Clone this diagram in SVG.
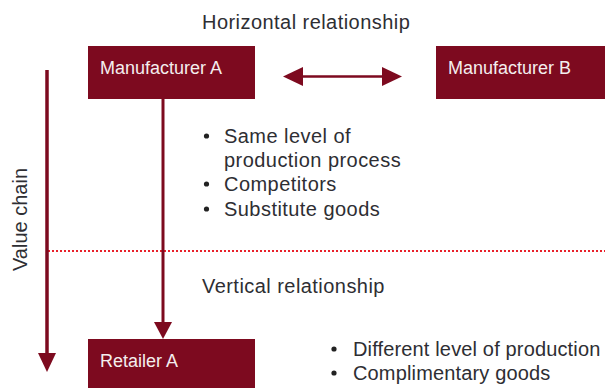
<svg xmlns="http://www.w3.org/2000/svg" width="605" height="388" viewBox="0 0 605 388">
  <style>
    .box { fill: #7d0a1f; }
    .boxlabel { font-family: "Liberation Sans", Arial, sans-serif; font-size: 18px; fill: #f4eeee; }
    .label { font-family: "Liberation Sans", Arial, sans-serif; font-size: 20px; fill: #2e2e33; letter-spacing: 0.45px; }
    .tight { letter-spacing: 0.15px; }
    .line { stroke: #7d0a1f; fill: none; }
    .head { fill: #7d0a1f; }
    .bullet { fill: #222222; }
  </style>

  <!-- Dotted divider between horizontal and vertical relationships -->
  <line x1="48" y1="251" x2="605" y2="251" stroke="#e8202a" stroke-width="2" stroke-dasharray="2 2"/>

  <text class="label" x="202" y="29">Horizontal relationship</text>
  <text class="label" x="202" y="293">Vertical relationship</text>
  <text class="label" x="27" y="219.5" text-anchor="middle" transform="rotate(-90 27 219.5)" style="letter-spacing:0">Value chain</text>

  <g id="connectors">
    <!-- Value chain arrow -->
    <line class="line" x1="47" y1="70" x2="47" y2="355" stroke-width="3.5"/>
    <polygon class="head" points="38,353 56,353 47,372"/>
    <!-- Manufacturer A to Retailer A -->
    <line class="line" x1="163" y1="99" x2="163" y2="324" stroke-width="3"/>
    <polygon class="head" points="154,322 172,322 163,339"/>
    <!-- Horizontal relationship double arrow -->
    <line class="line" x1="300" y1="76.5" x2="385" y2="76.5" stroke-width="2.5"/>
    <polygon class="head" points="283,76.5 303,67 303,86"/>
    <polygon class="head" points="402,76.5 382,67 382,86"/>
  </g>

  <g id="manufacturer-a">
    <rect class="box" x="88" y="46" width="167" height="53"/>
    <text class="boxlabel" x="100" y="74">Manufacturer A</text>
  </g>

  <g id="manufacturer-b">
    <rect class="box" x="436" y="46" width="169" height="53"/>
    <text class="boxlabel" x="448" y="74">Manufacturer B</text>
  </g>

  <g id="retailer-a">
    <rect class="box" x="88" y="339" width="167" height="49"/>
    <text class="boxlabel" x="100" y="367">Retailer A</text>
  </g>

  <g id="horizontal-notes">
    <circle class="bullet" cx="206.5" cy="136" r="2.6"/>
    <text class="label" x="224" y="143">Same level of</text>
    <text class="label" x="224" y="167">production process</text>
    <circle class="bullet" cx="206.5" cy="184" r="2.6"/>
    <text class="label" x="224" y="191">Competitors</text>
    <circle class="bullet" cx="206.5" cy="209" r="2.6"/>
    <text class="label" x="224" y="216">Substitute goods</text>
  </g>

  <g id="vertical-notes">
    <circle class="bullet" cx="334" cy="349" r="2.6"/>
    <text class="label tight" x="353" y="356">Different level of production</text>
    <circle class="bullet" cx="334" cy="373" r="2.6"/>
    <text class="label tight" x="353" y="380">Complimentary goods</text>
  </g>
</svg>
